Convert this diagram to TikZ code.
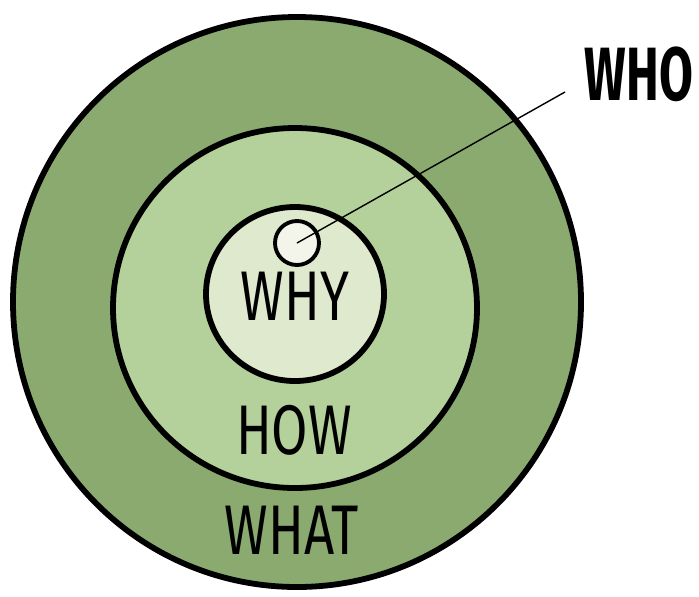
\documentclass[tikz,border=0pt]{standalone}
\usepackage{fontspec}
\setmainfont{Fira Sans}
\newfontfamily\handfont[FakeStretch=0.75]{Fira Sans}
\newfontfamily\whofont[FakeStretch=0.65]{Fira Sans}
\usetikzlibrary{positioning}
\definecolor{whatgreen}{RGB}{138,170,112}
\definecolor{howgreen}{RGB}{180,208,155}
\definecolor{whygreen}{RGB}{222,233,205}
\definecolor{whowhite}{RGB}{243,245,235}
\tikzset{
	ring/.style={draw=black,line width=3.3pt},
	word/.style={font=\handfont\fontsize{40}{40}\selectfont,inner sep=0pt}
}
\begin{document}
\begin{tikzpicture}[x=0.02cm,y=-0.02cm]
			\useasboundingbox (0,0) rectangle (699,596);
			\draw[ring,fill=whatgreen] (297,302) ellipse (284 and 285);
			\draw[ring,fill=howgreen] (295,308) ellipse (182 and 180);
			\draw[ring,fill=whygreen] (295,294) ellipse (89 and 87);
			\node[circle,draw,line width=2.2pt,fill=whowhite,minimum size=44*0.02cm,inner sep=0pt] (dot) at (297,243) {};
			\node[word] (why) at (295,296) {WHY};
			\node[word] (how) at (294,430) {HOW};
			\node[word] (what) at (292,530) {WHAT};
			\node[font=\whofont\bfseries\fontsize{43}{43}\selectfont,inner sep=0pt] (who) at (639,74) {WHO};
			\coordinate (whoend) at (565,92);
			\draw[line width=0.8pt] (dot.center) -- (whoend);
		\end{tikzpicture}
\end{document}
